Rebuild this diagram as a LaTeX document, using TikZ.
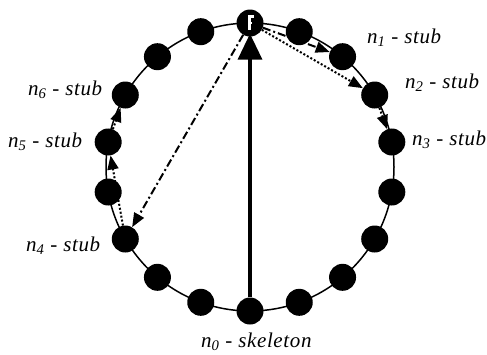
\documentclass[tikz,border=0pt]{standalone}
\usepackage{fontspec}
\setmainfont{Liberation Serif}
\newfontfamily\lblfont[LetterSpace=3]{Liberation Serif}
\usetikzlibrary{arrows.meta}
\tikzset{
  dot/.style={circle, fill=black, inner sep=0pt, minimum size=27pt},
  ring/.style={line width=1.5pt},
  lbl/.style={font=\fontsize{21}{25}\lblfont\itshape, inner sep=0pt, anchor=base west},
  skel/.style={line width=3.5pt, -{Triangle[length=26pt,width=24pt]}},
  hop/.style={line width=2pt, dash pattern=on 2pt off 2pt, -{Triangle[length=14pt,width=11pt]}},
  jump/.style={line width=2pt, dash pattern=on 8pt off 3pt on 2pt off 3pt, -{Triangle[length=14pt,width=11pt]}},
}
\begin{document}
\begin{tikzpicture}[x=1pt, y=1pt]
  \useasboundingbox (0,0) rectangle (487,-354);
  \coordinate (c) at (250,-167);
  \draw[ring] (c) circle[radius=144pt];
  % ring of hosts
  \node[dot] (t) at ([shift={(c)}]90:144pt) {};
  \node[dot] (n0) at ([shift={(c)}]270:144pt) {};
  \node[dot] (n1) at ([shift={(c)}]50:144pt) {};
  \node[dot] (n2) at ([shift={(c)}]30:144pt) {};
  \node[dot] (n3) at ([shift={(c)}]10:144pt) {};
  \node[dot] (n4) at ([shift={(c)}]210:144pt) {};
  \node[dot] (n5) at ([shift={(c)}]170:144pt) {};
  \node[dot] (n6) at ([shift={(c)}]150:144pt) {};
  \foreach \a in {70,110,130,190,230,250,290,310,330,350}
    \node[dot] (d\a) at ([shift={(c)}]\a:144pt) {};
  % mark on the top host
  \fill[white] ([shift={(-2,8)}]t.center) rectangle ++(3,-15);
  \fill[white] ([shift={(-2,8)}]t.center) rectangle ++(6,-2.5);
  \fill[white] ([shift={(-2,1)}]t.center) rectangle ++(4,-2);
  % paths
  \draw[skel, shorten >=-3pt] (n0) -- (t);
  \draw[jump] (t) -- (n1);
  \draw[hop] (t) -- (n2);
  \draw[hop] (n2) -- (n3);
  \draw[jump] (t) -- (n4);
  \draw[hop] (n4) -- (n5);
  \draw[hop] (n5) -- (n6);
  % labels
  \node[lbl] (l0) at (201,-347) {n\textsubscript{0} - skeleton};
  \node[lbl] (l1) at (367,-43) {n\textsubscript{1} - stub};
  \node[lbl] (l2) at (405,-88) {n\textsubscript{2} - stub};
  \node[lbl] (l3) at (412,-145) {n\textsubscript{3} - stub};
  \node[lbl] (l4) at (26,-251) {n\textsubscript{4} - stub};
  \node[lbl] (l5) at (8,-147) {n\textsubscript{5} - stub};
  \node[lbl] (l6) at (28,-95) {n\textsubscript{6} - stub};
\end{tikzpicture}
\end{document}
